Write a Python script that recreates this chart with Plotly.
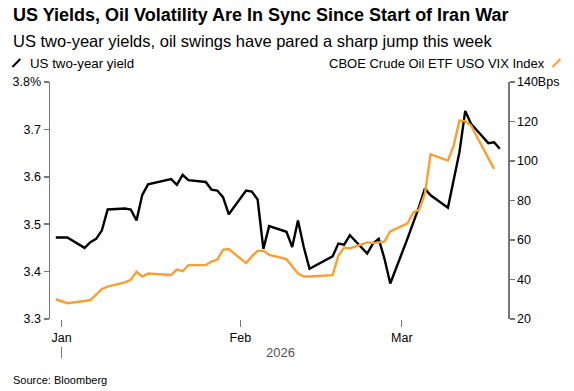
import plotly.graph_objects as go

# ---- data ----
dates = [
    "2025-12-31", "2026-01-02", "2026-01-05", "2026-01-06", "2026-01-07", "2026-01-08", "2026-01-09",
    "2026-01-12", "2026-01-13", "2026-01-14", "2026-01-15", "2026-01-16",
    "2026-01-20", "2026-01-21", "2026-01-22", "2026-01-23",
    "2026-01-26", "2026-01-27", "2026-01-28", "2026-01-29", "2026-01-30",
    "2026-02-02", "2026-02-03", "2026-02-04", "2026-02-05", "2026-02-06",
    "2026-02-09", "2026-02-10", "2026-02-11", "2026-02-12", "2026-02-13",
    "2026-02-17", "2026-02-18", "2026-02-19", "2026-02-20",
    "2026-02-23", "2026-02-24", "2026-02-25", "2026-02-26", "2026-02-27",
    "2026-03-02", "2026-03-03", "2026-03-04", "2026-03-05", "2026-03-06",
    "2026-03-09", "2026-03-10", "2026-03-11", "2026-03-12", "2026-03-13",
    "2026-03-16", "2026-03-17", "2026-03-18",
]
us2y = [
    3.472, 3.472, 3.450, 3.462, 3.469, 3.487, 3.531,
    3.533, 3.531, 3.508, 3.562, 3.584,
    3.595, 3.583, 3.604, 3.593,
    3.589, 3.573, 3.571, 3.557, 3.521,
    3.571, 3.569, 3.552, 3.448, 3.496,
    3.484, 3.452, 3.508, 3.452, 3.406,
    3.432, 3.459, 3.457, 3.477,
    3.438, 3.459, 3.469, 3.427, 3.375,
    3.470, 3.503, 3.537, 3.575, 3.561,
    3.535, 3.593, 3.652, 3.739, 3.712,
    3.671, 3.673, 3.659,
]
uso_vix = [
    30.0, 28.0, 29.1, 29.6, 32.4, 35.2, 36.4,
    38.5, 39.8, 43.9, 41.5, 43.0,
    42.3, 45.0, 44.2, 47.3,
    47.3, 49.1, 50.0, 55.0, 55.4,
    48.3, 51.7, 54.5, 54.5, 52.5,
    50.3, 46.9, 43.0, 41.5, 41.5,
    42.2, 52.0, 56.2, 55.7,
    58.8, 58.4, 58.8, 59.3, 64.3,
    68.4, 74.0, 75.4, 83.3, 103.3,
    100.2, 107.8, 120.5, 120.2, 118.0,
    101.4, 96.0,
]
left_ticks = [3.3, 3.4, 3.5, 3.6, 3.7, 3.8]
left_labels = ["3.3", "3.4", "3.5", "3.6", "3.7", "3.8%"]
right_ticks = [20, 40, 60, 80, 100, 120, 140]
right_labels = ["20", "40", "60", "80", "100", "120", "140Bps"]
month_ticks = ["2026-01-01", "2026-02-01", "2026-03-01"]
month_labels = ["Jan", "Feb", "Mar"]

title = "US Yields, Oil Volatility Are In Sync Since Start of Iran War"
subtitle = "US two-year yields, oil swings have pared a sharp jump this week"
name_left = "US two-year yield"
name_right = "CBOE Crude Oil ETF USO VIX Index"
source = "Source: Bloomberg"

# ---- layout geometry ----
W, H = 574, 391
L, R, T, B = 45, 508, 82, 319
ORANGE = "#FBA030"
AXIS = "#777777"
FONT = "Liberation Sans, Arial, sans-serif"


def px(x):
    return (x - L) / (R - L)


def py(y):
    return (B - y) / (B - T)


fig = go.Figure()
fig.add_trace(go.Scatter(x=dates[:len(uso_vix)], y=uso_vix, mode="lines", yaxis="y2",
                         line=dict(color=ORANGE, width=2.4), name=name_right))
fig.add_trace(go.Scatter(x=dates, y=us2y, mode="lines",
                         line=dict(color="#000000", width=2.4), name=name_left))

fig.update_layout(
    width=W, height=H, autosize=False,
    margin=dict(l=L, r=W - R, t=T, b=H - B, pad=0),
    paper_bgcolor="white", plot_bgcolor="white",
    showlegend=False,
    font=dict(family=FONT, color="#000000", size=12.5),
    xaxis=dict(
        range=["2025-12-30", "2026-03-19 10:00"],
        tickvals=month_ticks, ticktext=month_labels,
        ticks="outside", ticklen=7, tickcolor=AXIS, tickwidth=1,
        showgrid=False, zeroline=False, showline=False,
        tickfont=dict(size=12.5),
    ),
    yaxis=dict(
        range=[3.3, 3.8], tickvals=left_ticks, ticktext=left_labels,
        ticks="outside", ticklen=5, tickcolor=AXIS, tickwidth=1.5,
        showline=True, linecolor=AXIS, linewidth=1.5,
        showgrid=False, zeroline=False, tickfont=dict(size=12.5),
    ),
    yaxis2=dict(
        range=[20, 140], tickvals=right_ticks, ticktext=right_labels,
        overlaying="y", side="right",
        ticks="outside", ticklen=5, tickcolor=AXIS, tickwidth=1.5,
        showline=True, linecolor=AXIS, linewidth=1.5,
        showgrid=False, zeroline=False, tickfont=dict(size=12.5),
    ),
)

ann = []
ann.append(dict(text="<b>" + title + "</b>", x=px(6), y=py(15), xanchor="left", yanchor="middle",
                font=dict(size=18, family=FONT, color="#000")))
ann.append(dict(text=subtitle, x=px(6), y=py(41), xanchor="left", yanchor="middle",
                font=dict(size=16.5, family=FONT, color="#000")))
ann.append(dict(text=name_left, x=px(23), y=py(63), xanchor="left", yanchor="middle",
                font=dict(size=13.3, family=FONT, color="#000")))
ann.append(dict(text=name_right, x=px(547), y=py(63), xanchor="right", yanchor="middle",
                font=dict(size=13, family=FONT, color="#000")))
ann.append(dict(text="2026", x=px(278), y=py(352), xanchor="center", yanchor="middle",
                font=dict(size=13, family=FONT, color="#555")))
ann.append(dict(text=source, x=px(6), y=py(380), xanchor="left", yanchor="middle",
                font=dict(size=11, family=FONT, color="#000")))
for a in ann:
    a.update(xref="paper", yref="paper", showarrow=False)
fig.update_layout(annotations=ann)

shapes = [
    dict(type="line", xref="paper", yref="paper", x0=px(7), y0=py(67), x1=px(15), y1=py(59),
         line=dict(color="#000", width=2)),
    dict(type="line", xref="paper", yref="paper", x0=px(553), y0=py(67), x1=px(561), y1=py(59),
         line=dict(color=ORANGE, width=2)),
    dict(type="line", xref="x", yref="paper", x0="2026-01-01", x1="2026-01-01",
         y0=py(347), y1=py(358), line=dict(color=AXIS, width=1)),
]
fig.update_layout(shapes=shapes)

fig.write_html("out.html",
               config={"displayModeBar": False, "staticPlot": True},
               post_script="document.body.style.margin='0';document.body.style.padding='0';"
                           "document.documentElement.style.overflow='hidden';")
